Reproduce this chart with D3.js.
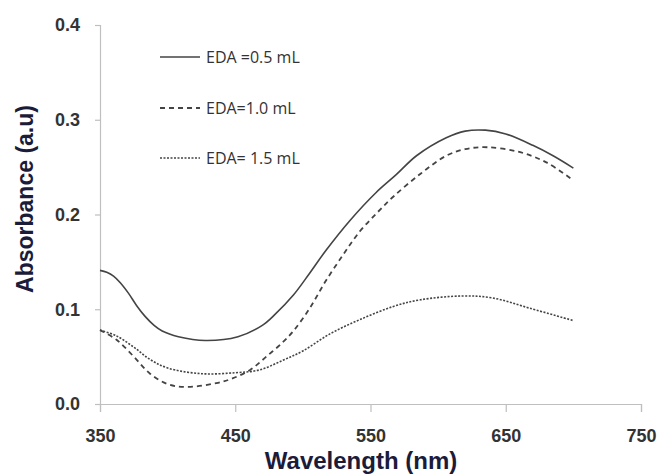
<!doctype html>
<html lang="en">
<head>
  <meta charset="UTF-8">
  <title>Absorbance</title>
  <script src="https://cdn.jsdelivr.net/npm/d3@7"></script>
  <style>
    body { margin: 0; background: #fff; }
    text { font-family: "Liberation Sans", Arial, sans-serif; }
  </style>
</head>
<body>
<div id="container"></div>
<script type="text/javascript">
// series
var seriesNames = ['EDA =0.5 mL', 'EDA=1.0 mL', 'EDA= 1.5 mL'];

var eda05 = [
  [350, 0.141], [355, 0.139], [360, 0.135], [365, 0.128], [371, 0.117], [377, 0.104],
  [383, 0.093], [390, 0.083], [396, 0.077], [408, 0.071],
  [428, 0.067], [452, 0.071], [470, 0.083], [479, 0.094], [493, 0.115],
  [505, 0.138], [517, 0.162], [535, 0.194], [554, 0.223], [569, 0.242], [584, 0.262],
  [606, 0.281], [620, 0.288], [635, 0.289], [650, 0.285], [670, 0.273], [685, 0.262], [700, 0.249]
];

var eda10 = [
  [350, 0.078], [362, 0.068], [375, 0.050], [387, 0.032], [400, 0.021], [414, 0.018],
  [436, 0.022], [448, 0.027], [461, 0.036], [473, 0.050], [485, 0.065], [493, 0.077],
  [505, 0.101], [517, 0.130], [530, 0.158], [542, 0.182], [555, 0.202], [567, 0.219],
  [587, 0.243], [606, 0.262], [620, 0.269], [636, 0.271], [660, 0.266], [680, 0.255], [700, 0.236]
];

var eda15 = [
  [350, 0.078], [362, 0.072], [375, 0.060], [387, 0.047], [400, 0.038], [425, 0.032],
  [450, 0.033], [468, 0.036], [485, 0.046], [500, 0.056], [520, 0.074], [542, 0.089],
  [567, 0.103], [587, 0.110], [618, 0.114], [640, 0.112], [668, 0.101], [700, 0.088]
];

var xTicks = [350, 450, 550, 650, 750];
var yTicks = [0.0, 0.1, 0.2, 0.3, 0.4];

var width = 664, height = 476;
var margin = { left: 100, right: 23, top: 25, bottom: 72 };

var svg = d3.select('#container').append('svg')
  .attr('width', width)
  .attr('height', height);

var x = d3.scaleLinear().domain([350, 750]).range([margin.left, width - margin.right]);
var y = d3.scaleLinear().domain([0, 0.4]).range([height - margin.bottom, margin.top]);

// axes
var xAxis = svg.append('g')
  .attr('transform', 'translate(0,' + y(0) + ')')
  .call(d3.axisBottom(x).tickValues(xTicks).tickSize(8).tickPadding(17).tickFormat(d3.format('d')));

var yAxis = svg.append('g')
  .attr('transform', 'translate(' + x(350) + ',0)')
  .call(d3.axisLeft(y).tickValues(yTicks).tickSize(5).tickPadding(15).tickFormat(d3.format('.1f')));

[xAxis, yAxis].forEach(function(ax) {
  ax.select('.domain').attr('stroke', '#bfbfbf').attr('stroke-width', 1.2);
  ax.selectAll('.tick line').attr('stroke', '#bfbfbf').attr('stroke-width', 1.2);
  ax.selectAll('.tick text')
    .attr('fill', '#333')
    .style('font-size', '18px')
    .style('font-weight', 'bold')
    .style('font-family', '"Liberation Sans", Arial, sans-serif');
});

// axis titles
svg.append('text')
  .attr('x', 361)
  .attr('y', 469)
  .attr('text-anchor', 'middle')
  .attr('fill', '#1b1b3a')
  .style('font-size', '24px')
  .style('font-weight', 'bold')
  .text('Wavelength (nm)');

svg.append('text')
  .attr('transform', 'translate(33,' + 199 + ') rotate(-90)')
  .attr('text-anchor', 'middle')
  .attr('fill', '#1b1b3a')
  .style('font-size', '23px')
  .style('font-weight', 'bold')
  .text('Absorbance (a.u)');

// lines
var styles = [
  { data: eda05, dash: null, w: 1.6 },
  { data: eda10, dash: '5,4', w: 1.8 },
  { data: eda15, dash: '2,1.5', w: 1.6 }
];

var line = d3.line()
  .x(function(d) { return x(d[0]); })
  .y(function(d) { return y(d[1]); })
  .curve(d3.curveCatmullRom.alpha(0.5));

styles.forEach(function(s) {
  svg.append('path')
    .datum(s.data)
    .attr('d', line)
    .attr('fill', 'none')
    .attr('stroke', '#444')
    .attr('stroke-width', s.w)
    .attr('stroke-dasharray', s.dash);
});

// legend
var legendY = [57, 108, 158];
styles.forEach(function(s, i) {
  svg.append('line')
    .attr('x1', 160).attr('x2', 200)
    .attr('y1', legendY[i]).attr('y2', legendY[i])
    .attr('stroke', '#444')
    .attr('stroke-width', s.w)
    .attr('stroke-dasharray', s.dash);
  svg.append('text')
    .attr('x', 206)
    .attr('y', legendY[i])
    .attr('dy', '0.35em')
    .attr('fill', '#333')
    .style('font-family', '"Open Sans", sans-serif')
    .style('font-size', '16px')
    .text(seriesNames[i]);
});
</script>
</body>
</html>
